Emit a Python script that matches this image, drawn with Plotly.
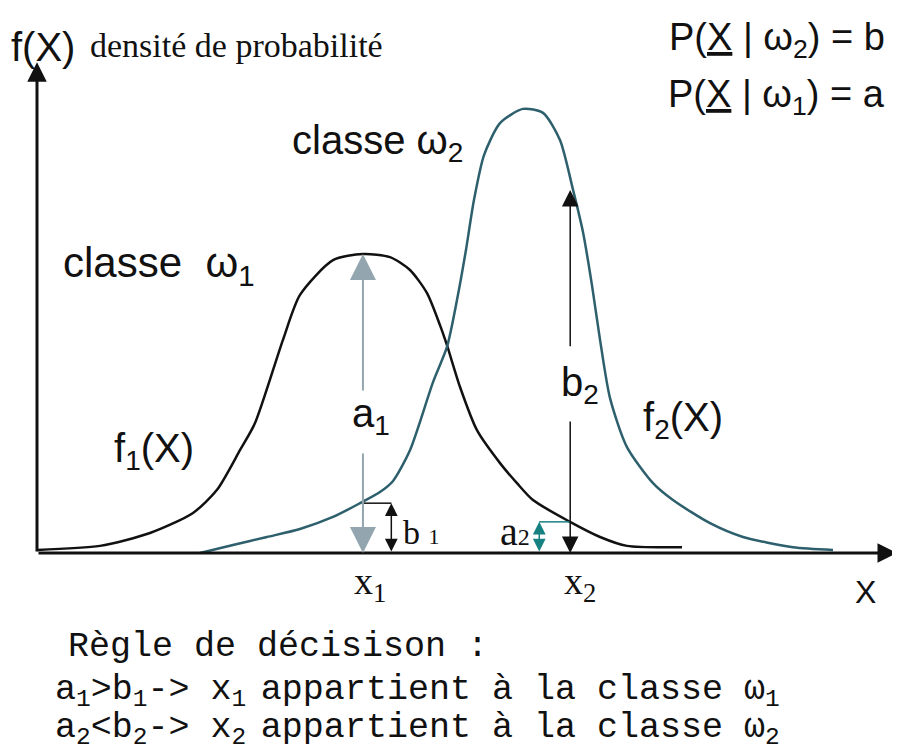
import plotly.graph_objects as go

# ---------------- data (X in arbitrary units, density f(X)) ----------------
f1_x = [0.000, 0.733, 1.314, 1.814, 2.093, 2.360, 2.535, 2.860, 3.058, 3.442,
        3.791, 4.105, 4.337, 4.535, 4.686, 4.767, 4.919, 5.116, 5.384, 5.581,
        5.767, 6.198, 6.547, 6.860, 7.500]
f1_y = [0.007, 0.016, 0.045, 0.090, 0.142, 0.231, 0.292, 0.479, 0.580, 0.658,
        0.672, 0.665, 0.636, 0.584, 0.512, 0.467, 0.373, 0.276, 0.202, 0.157,
        0.119, 0.070, 0.036, 0.016, 0.013]

f2_x = [1.895, 2.279, 2.674, 3.058, 3.442, 3.756, 3.988, 4.140, 4.337, 4.605,
        4.767, 4.884, 4.988, 5.081, 5.198, 5.384, 5.651, 5.884, 6.081, 6.233,
        6.349, 6.453, 6.547, 6.663, 6.860, 7.163, 7.395, 7.826, 8.209, 8.791, 9.256]
f2_y = [0.000, 0.018, 0.036, 0.054, 0.081, 0.112, 0.137, 0.162, 0.231, 0.384,
        0.463, 0.569, 0.681, 0.793, 0.894, 0.966, 0.998, 0.989, 0.928, 0.816,
        0.721, 0.602, 0.479, 0.348, 0.238, 0.157, 0.119, 0.067, 0.036, 0.013, 0.007]

x_points = [3.79, 6.20]      # x1, x2
a_vals = [0.672, 0.070]      # f1(x1)=a1, f1(x2)=a2
b_vals = [0.112, 0.816]      # f2(x1)=b1, f2(x2)=b2
axis_end = [10.0, 1.103]     # extent of X axis and f(X) axis

# page body has an 8px margin: figure is sized to fit the 900x753 window
PAGE_MARGIN = 8
W, H = 900 - PAGE_MARGIN, 753 - PAGE_MARGIN
X_RANGE = [-0.3372, 10.0349]
Y_RANGE = [-0.4494, 1.2247]

SANS = "Arial, Liberation Sans, sans-serif"
SERIF = "Times New Roman, Liberation Serif, serif"
MONO = "Courier New, Liberation Mono, monospace"
INK = "#111111"
TEAL = "#2d5f6c"
GREY = "#93a5ae"
GREEN = "#178080"

fig = go.Figure()

fig.add_trace(go.Scatter(x=f1_x, y=f1_y, mode="lines",
                         line=dict(color=INK, width=2.5, shape="spline", smoothing=0.7),
                         hoverinfo="skip"))
fig.add_trace(go.Scatter(x=f2_x, y=f2_y, mode="lines",
                         line=dict(color=TEAL, width=2.5, shape="spline", smoothing=0.7),
                         hoverinfo="skip"))

x1, x2 = x_points
a1, a2 = a_vals
b1, b2 = b_vals
b1_off = 0.33   # horizontal offset of the b1 marker arrow
a2_off = 0.36   # horizontal offset of the a2 marker arrow

# small horizontal ticks for b1 and a2
fig.add_trace(go.Scatter(x=[x1, x1 + b1_off], y=[b1, b1], mode="lines",
                         line=dict(color=INK, width=1.5), hoverinfo="skip"))
fig.add_trace(go.Scatter(x=[x2 - a2_off, x2], y=[a2, a2], mode="lines",
                         line=dict(color=GREEN, width=1.5), hoverinfo="skip"))


def arrow(xa, ya, xb, yb, color, width, size, both=False):
    fig.add_annotation(x=xb, y=yb, ax=xa, ay=ya, xref="x", yref="y",
                       axref="x", ayref="y", text="", showarrow=True,
                       arrowhead=2, arrowsize=size, arrowwidth=width,
                       arrowcolor=color, startarrowhead=2, startarrowsize=size,
                       arrowside="end+start" if both else "end", standoff=0,
                       startstandoff=0)


# axes
arrow(0, 0, 0, axis_end[1], INK, 3, 1.3)
arrow(0, 0, axis_end[0], 0, INK, 3, 1.3)

# a1 (grey) with a gap for its label
arrow(x1, 0.362, x1, a1, GREY, 2, 2.6)
arrow(x1, 0.227, x1, 0, GREY, 2, 2.6)
# b2 (black) with a gap for its label
arrow(x2, 0.461, x2, b2, INK, 1.5, 2.2)
arrow(x2, 0.299, x2, 0, INK, 1.5, 2.2)
# b1 and a2 small double arrows
arrow(x1 + b1_off, 0, x1 + b1_off, b1, INK, 1.5, 1.7, both=True)
arrow(x2 - a2_off, 0, x2 - a2_off, a2, GREEN, 1.5, 1.7, both=True)


def label(text, x, y, size, family=SANS, xanchor="left", color=INK):
    # x, y: position in the reference picture's pixels
    fx = (x - PAGE_MARGIN) / W
    fy = 1 - (y - PAGE_MARGIN) / H
    fig.add_annotation(text=text, xref="paper", yref="paper", x=fx, y=fy,
                       xanchor=xanchor, yanchor="middle", showarrow=False,
                       font=dict(size=size, family=family, color=color))


label("f(X)", 9, 47, 40)
label("densité de probabilité", 88, 46, 34, SERIF)
label("P(<u>X</u> | ω<sub>2</sub>) = b", 887, 40, 38, xanchor="right")
label("P(<u>X</u> | ω<sub>1</sub>) = a", 887, 97, 38, xanchor="right")
label("classe ω<sub>2</sub>", 290, 143, 40)
label("classe\u00a0\u00a0ω<sub>1</sub>", 61, 265, 42)
label("f<sub>1</sub>(X)", 112, 451, 40)
label("f<sub>2</sub>(X)", 641, 420, 40)
label("a<sub>1</sub>", 350, 416, 40)
label("b<sub>2</sub>", 559, 385, 40)
label("b <span style='font-size:22px'>1</span>", 401, 532, 34, SERIF)
label("a<span style='font-size:24px'>2</span>", 498, 531, 40, SERIF)
label("x<sub>1</sub>", 352, 584, 38, SERIF)
label("x<sub>2</sub>", 562, 584, 38, SERIF)
label("X", 865, 592, 32, xanchor="center")

label("Règle de décisison :", 66, 647, 35, MONO)
label("a<sub>1</sub>>b<sub>1</sub>-> x<sub>1 </sub>appartient à la classe ω<sub>1</sub>",
      53, 691, 35, MONO)
label("a<sub>2</sub><b<sub>2</sub>-> x<sub>2 </sub>appartient à la classe ω<sub>2</sub>",
      53, 729, 35, MONO)

fig.update_layout(width=W, height=H, margin=dict(l=0, r=0, t=0, b=0),
                  paper_bgcolor="white", plot_bgcolor="white", showlegend=False,
                  hovermode=False)
fig.update_xaxes(range=X_RANGE, visible=False, fixedrange=True)
fig.update_yaxes(range=Y_RANGE, visible=False, fixedrange=True)

fig.write_html("out.html")
